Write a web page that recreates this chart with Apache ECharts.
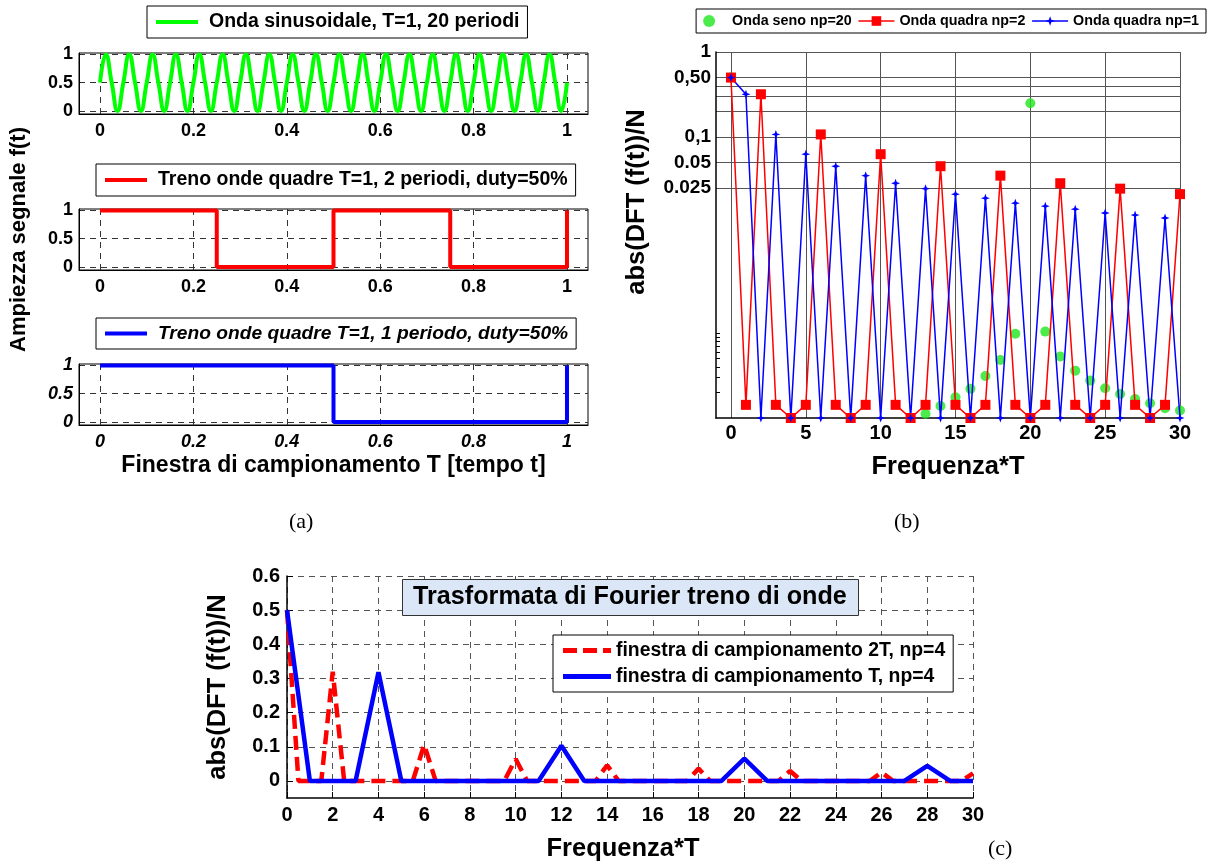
<!DOCTYPE html>
<html lang="it">
<head>
<meta charset="UTF-8">
<title>Onde quadre e DFT</title>
<style>
  body { margin: 0; background: #fff; }
  #chart { width: 1210px; height: 867px; }
</style>
</head>
<body>
<div id="chart"></div>
<script src="https://cdn.jsdelivr.net/npm/echarts@6/dist/echarts.min.js"></script>
<script>
// ---- (a) segnali nel tempo ----
// onda sinusoidale, 20 periodi, letta a quarti di periodo
var sineVals = [
  0.5,1,0.5,0, 0.5,1,0.5,0, 0.5,1,0.5,0, 0.5,1,0.5,0, 0.5,1,0.5,0,
  0.5,1,0.5,0, 0.5,1,0.5,0, 0.5,1,0.5,0, 0.5,1,0.5,0, 0.5,1,0.5,0,
  0.5,1,0.5,0, 0.5,1,0.5,0, 0.5,1,0.5,0, 0.5,1,0.5,0, 0.5,1,0.5,0,
  0.5,1,0.5,0, 0.5,1,0.5,0, 0.5,1,0.5,0, 0.5,1,0.5,0, 0.5,1,0.5,0,
  0.5
];
var sineStep = 1 / 80;
var square2T = [0, 0.25, 0.25, 0.5, 0.5, 0.75, 0.75, 1, 1];
var square2V = [1, 1, 0, 0, 1, 1, 0, 0, 1];
var square1T = [0, 0.5, 0.5, 1, 1];
var square1V = [1, 1, 0, 0, 1];
var timeTicks = [0, 0.2, 0.4, 0.6, 0.8, 1];
var ampTicks = [0, 0.5, 1];

// ---- (b) DFT in scala log ----
var freqB = [0,1,2,3,4,5,6,7,8,9,10,11,12,13,14,15,16,17,18,19,20,21,22,23,24,25,26,27,28,29,30];
var dftSine = [0.5, null,null,null,null,null,null,null,null,null,null,null,null,
  5.5e-5, 6.8e-5, 8.6e-5, 1.08e-4, 1.53e-4, 2.36e-4, 4.8e-4, 0.249, 5.1e-4, 2.6e-4,
  1.77e-4, 1.35e-4, 1.1e-4, 9.4e-5, 8.2e-5, 7.3e-5, 6.4e-5, 6.0e-5];
var dftSq2 = [0.5, 7e-5, 0.318, 7e-5, 4.9e-5, 7e-5, 0.107, 7e-5, 4.9e-5, 7e-5,
  0.0626, 7e-5, 4.9e-5, 7e-5, 0.0452, 7e-5, 4.9e-5, 7e-5, 0.035, 7e-5,
  4.9e-5, 7e-5, 0.0285, 7e-5, 4.9e-5, 7e-5, 0.0246, 7e-5, 4.9e-5, 7e-5, 0.0212];
var dftSq1 = [0.5, 0.318, 4.9e-5, 0.107, 4.9e-5, 0.0626, 4.9e-5, 0.0452, 4.9e-5, 0.035,
  4.9e-5, 0.0285, 4.9e-5, 0.0246, 4.9e-5, 0.0212, 4.9e-5, 0.019, 4.9e-5, 0.0166,
  4.9e-5, 0.0153, 4.9e-5, 0.0141, 4.9e-5, 0.0127, 4.9e-5, 0.012, 4.9e-5, 0.0111, 4.9e-5];
var freqTicksB = [0, 5, 10, 15, 20, 25, 30];
var dftGridB = [0.025, 0.05, 0.1, 0.2, 0.3, 0.4, 0.5, 1];
var dftLabelVals = [0.025, 0.05, 0.1, 0.5, 1];
var dftLabelText = ['0.025', '0.05', '0,1', '0,50', '1'];
var dftMinorB = [9.8e-5, 1.47e-4, 1.96e-4, 2.45e-4, 2.94e-4, 3.43e-4, 3.92e-4, 4.41e-4, 4.9e-4];

// ---- (c) DFT lineare ----
var freqC2 = [0,0.5,1,1.5,2,2.5,3,3.5,4,4.5,5,5.5,6,6.5,7,7.5,8,8.5,9,9.5,
  10,10.5,11,11.5,12,12.5,13,13.5,14,14.5,15,15.5,16,16.5,17,17.5,18,18.5,19,19.5,
  20,20.5,21,21.5,22,22.5,23,23.5,24,24.5,25,25.5,26,26.5,27,27.5,28,28.5,29,29.5,30];
var dftWin2T = [
  0.5,0,0,0,0.32,0,0,0,0,0,
  0,0,0.106,0,0,0,0,0,0,0,
  0.064,0,0,0,0,0,0,0,0.046,0,
  0,0,0,0,0,0,0.036,0,0,0,
  0,0,0,0,0.029,0,0,0,0,0,
  0,0,0.025,0,0,0,0,0,0,0,
  0.022];
var freqC1 = freqB;
var dftWinT = [
  0.5,0,0,0,0.318,0,0,0,0,0,
  0,0,0.103,0,0,0,0,0,0,0,
  0.065,0,0,0,0,0,0,0,0.044,0,
  0];
var ampTicksC = [0, 0.1, 0.2, 0.3, 0.4, 0.5, 0.6];

var nameSine = 'Onda sinusoidale, T=1, 20 periodi';
var nameSq2 = 'Treno onde quadre T=1, 2 periodi, duty=50%';
var nameSq1 = 'Treno onde quadre T=1, 1 periodo, duty=50%';
var nameB1 = 'Onda seno np=20';
var nameB2 = 'Onda quadra np=2';
var nameB3 = 'Onda quadra np=1';
var nameC1 = 'finestra di campionamento 2T, np=4';
var nameC2 = 'finestra di campionamento T, np=4';

var FONT = '"Liberation Sans", Arial, Helvetica, sans-serif';
var SERIF = '"Liberation Serif", "Times New Roman", serif';

function pairs(xs, ys) {
  var out = [];
  for (var i = 0; i < ys.length; i++) {
    if (ys[i] !== null) out.push([xs[i], ys[i]]);
  }
  return out;
}
function txt(size, italic) {
  return { color: '#000', fontFamily: FONT, fontWeight: 'bold', fontSize: size,
    fontStyle: italic ? 'italic' : 'normal' };
}
var dashA = { show: true, lineStyle: { color: '#333', type: [6, 5], width: 1 } };

function timeX(idx, italic) {
  var lab = txt(18, italic);
  lab.customValues = timeTicks; lab.margin = 8; lab.align = 'center';
  return {
    type: 'value', gridIndex: idx, min: -0.045, max: 1.045,
    axisLine: { show: true, onZero: false, lineStyle: { color: '#000' } },
    axisTick: { show: false, customValues: timeTicks },
    axisLabel: lab,
    splitLine: dashA
  };
}
function ampY(idx, italic) {
  var lab = txt(18, italic);
  lab.customValues = ampTicks; lab.margin = 6;
  return {
    type: 'value', gridIndex: idx, min: -0.055, max: 1.025,
    axisLine: { show: true, onZero: false, lineStyle: { color: '#000' } },
    axisTick: { show: false, customValues: ampTicks },
    axisLabel: lab,
    splitLine: dashA
  };
}
function legendA(name, left, top, italic, size) {
  return {
    data: [{ name: name, icon: 'path://M0,0H42V4H0Z' }], left: left, top: top, orient: 'horizontal',
    itemWidth: 42, itemHeight: 4, padding: [6, 8, 6, 9], selectedMode: false,
    borderColor: '#000', borderWidth: 1, backgroundColor: '#fff',
    textStyle: Object.assign(txt(size, italic), { padding: [0, 0, 0, 6] })
  };
}

var xA3 = timeX(2, true);
xA3.name = 'Finestra di campionamento T [tempo t]';
xA3.nameLocation = 'middle';
xA3.nameGap = 29;
xA3.nameTextStyle = txt(23);

var yA2 = ampY(1, false);
yA2.name = 'Ampiezza segnale f(t)';
yA2.nameLocation = 'middle';
yA2.nameGap = 49;
yA2.nameTextStyle = txt(22);

var gridLineB = { show: true, lineStyle: { color: '#555', width: 1, type: 'solid' } };
var starPath = 'path://M0,-10 L2.6,-2.6 L10,0 L2.6,2.6 L0,10 L-2.6,2.6 L-10,0 L-2.6,-2.6 Z';

var chart = echarts.init(document.getElementById('chart'));

var option = {
  backgroundColor: '#fff',
  animation: false,
  textStyle: { fontFamily: FONT },
  title: [
    { text: '(a)', left: 289, top: 511, padding: 0, textStyle: { fontFamily: SERIF, fontSize: 22, fontWeight: 'normal', color: '#000' } },
    { text: '(b)', left: 894, top: 511, padding: 0, textStyle: { fontFamily: SERIF, fontSize: 22, fontWeight: 'normal', color: '#000' } },
    { text: '(c)', left: 988, top: 838, padding: 0, textStyle: { fontFamily: SERIF, fontSize: 22, fontWeight: 'normal', color: '#000' } },
    { text: 'Trasformata di Fourier treno di onde', left: 402, top: 579, padding: [5, 12, 5, 11],
      backgroundColor: '#dbe7f7', borderColor: '#333', borderWidth: 1,
      textStyle: { fontFamily: FONT, fontSize: 25.2, fontWeight: 'bold', color: '#000', lineHeight: 27 } }
  ],
  legend: [
    legendA(nameSine, 147, 6, false, 19.5),
    legendA(nameSq2, 96, 164, false, 19.5),
    legendA(nameSq1, 96, 318, true, 19.2),
    { data: [nameB1, nameB2, nameB3], right: 4, top: 9, orient: 'horizontal',
      itemWidth: 36, itemHeight: 12, itemGap: 6, padding: [5, 7], selectedMode: false,
      borderColor: '#000', borderWidth: 1, backgroundColor: '#fff',
      lineStyle: { width: 1.5 },
      textStyle: txt(14.3) },
    { data: [
        { name: nameC1, icon: 'path://M0,0H14V5H0Z M20,0H34V5H20Z M40,0H48V5H40Z' },
        { name: nameC2, icon: 'path://M0,0H48V5H0Z' }
      ], left: 553, top: 635, orient: 'vertical',
      itemWidth: 48, itemHeight: 5, itemGap: 7, padding: [6, 8, 6, 10], selectedMode: false,
      borderColor: '#000', borderWidth: 1, backgroundColor: '#fff',
      textStyle: txt(19.4) }
  ],
  grid: [
    { left: 79, top: 53, width: 509, height: 61, show: true, borderColor: '#000', borderWidth: 1, outerBoundsMode: 'none' },
    { left: 79, top: 209, width: 509, height: 61, show: true, borderColor: '#000', borderWidth: 1, outerBoundsMode: 'none' },
    { left: 79, top: 364, width: 509, height: 61, show: true, borderColor: '#000', borderWidth: 1, outerBoundsMode: 'none' },
    { left: 716, top: 52, width: 464, height: 366, outerBoundsMode: 'none' },
    { left: 287, top: 576, width: 686, height: 222, outerBoundsMode: 'none' }
  ],
  xAxis: [
    timeX(0, false),
    timeX(1, false),
    xA3,
    {
      type: 'value', gridIndex: 3, min: -1, max: 30,
      name: 'Frequenza*T', nameLocation: 'middle', nameGap: 36, nameTextStyle: txt(25.5),
      axisLine: { show: true, onZero: false, lineStyle: { color: '#000', width: 1.5 } },
      axisTick: { show: false, customValues: freqTicksB },
      axisLabel: Object.assign(txt(20), { customValues: freqTicksB, margin: 5, align: 'center' }),
      splitLine: gridLineB
    },
    {
      type: 'value', gridIndex: 4, min: 0, max: 30, interval: 2,
      name: 'Frequenza*T', nameLocation: 'middle', nameGap: 38,
      nameTextStyle: Object.assign(txt(25.5), { padding: [0, 14, 0, 0] }),
      axisLine: { show: true, onZero: false, lineStyle: { color: '#000', width: 1.5 } },
      axisTick: { show: true, inside: true, length: 6, lineStyle: { color: '#000' } },
      axisLabel: Object.assign(txt(20), { margin: 7, align: 'center', showMinLabel: true, showMaxLabel: true }),
      splitLine: { show: true, lineStyle: { color: '#555', type: [6, 5], width: 1 } }
    }
  ],
  yAxis: [
    ampY(0, false),
    yA2,
    ampY(2, true),
    {
      type: 'log', logBase: 10, gridIndex: 3, min: 4.9e-5, max: 1, position: 'left',
      name: 'abs(DFT (f(t))/N', nameLocation: 'middle', nameGap: 66,
      nameTextStyle: Object.assign(txt(25.5), { padding: [0, 0, 0, 66] }),
      axisLine: { show: true, onZero: false, lineStyle: { color: '#000', width: 1.5 } },
      axisTick: { show: false, customValues: dftGridB },
      axisLabel: Object.assign(txt(19), {
        customValues: dftLabelVals, margin: 5,
        formatter: function (v) {
          for (var i = 0; i < dftLabelVals.length; i++) {
            if (Math.abs(Math.log(v / dftLabelVals[i])) < 0.01) return dftLabelText[i];
          }
          return '';
        }
      }),
      minorTick: { show: false },
      splitLine: gridLineB
    },
    {
      type: 'log', logBase: 10, gridIndex: 3, min: 4.9e-5, max: 1, position: 'left',
      axisLine: { show: false, onZero: false },
      axisTick: { show: true, inside: true, length: 4, customValues: dftMinorB, lineStyle: { color: '#000' } },
      axisLabel: { show: false },
      splitLine: { show: false }
    },
    {
      type: 'value', gridIndex: 4, min: -0.05, max: 0.6,
      name: 'abs(DFT (f(t))/N', nameLocation: 'middle', nameGap: 56, nameTextStyle: txt(25.5),
      axisLine: { show: true, onZero: false, lineStyle: { color: '#000', width: 1.5 } },
      axisTick: { show: true, inside: true, length: 6, customValues: ampTicksC, lineStyle: { color: '#000' } },
      axisLabel: Object.assign(txt(20), { customValues: ampTicksC, margin: 7 }),
      splitLine: { show: true, lineStyle: { color: '#555', type: [6, 5], width: 1 } }
    }
  ],
  series: [
    { name: nameSine, type: 'line', xAxisIndex: 0, yAxisIndex: 0, smooth: true, symbol: 'none',
      color: '#00ff00', lineStyle: { color: '#00ff00', width: 4 },
      data: sineVals.map(function (v, i) { return [i * sineStep, v]; }) },
    { name: nameSq2, type: 'line', xAxisIndex: 1, yAxisIndex: 1, symbol: 'none',
      color: '#ff0000', lineStyle: { color: '#ff0000', width: 4 },
      data: pairs(square2T, square2V) },
    { name: nameSq1, type: 'line', xAxisIndex: 2, yAxisIndex: 2, symbol: 'none',
      color: '#0000ff', lineStyle: { color: '#0000ff', width: 4 },
      data: pairs(square1T, square1V) },

    { name: nameB1, type: 'scatter', xAxisIndex: 3, yAxisIndex: 3, symbol: 'circle', symbolSize: 10,
      color: '#1ee61e', itemStyle: { color: '#1ee61e' }, clip: false,
      data: pairs(freqB, dftSine) },
    { name: nameB2, type: 'line', xAxisIndex: 3, yAxisIndex: 3, symbol: 'rect', symbolSize: 10,
      showAllSymbol: true, clip: false,
      color: '#ff0000', itemStyle: { color: '#ff0000' }, lineStyle: { color: '#ff0000', width: 1.5 },
      data: pairs(freqB, dftSq2) },
    { name: nameB3, type: 'line', xAxisIndex: 3, yAxisIndex: 3, symbol: starPath, symbolSize: 9,
      showAllSymbol: true, clip: false,
      color: '#0000ff', itemStyle: { color: '#0000ff' }, lineStyle: { color: '#0000ff', width: 1.5 },
      data: pairs(freqB, dftSq1) },

    { name: nameC1, type: 'line', xAxisIndex: 4, yAxisIndex: 5, symbol: 'none',
      color: '#ff0000', lineStyle: { color: '#ff0000', width: 4.5, type: [14, 7] },
      data: pairs(freqC2, dftWin2T) },
    { name: nameC2, type: 'line', xAxisIndex: 4, yAxisIndex: 5, symbol: 'none',
      color: '#0000ff', lineStyle: { color: '#0000ff', width: 4.5 },
      data: pairs(freqC1, dftWinT) }
  ]
};

chart.setOption(option);
</script>
</body>
</html>
